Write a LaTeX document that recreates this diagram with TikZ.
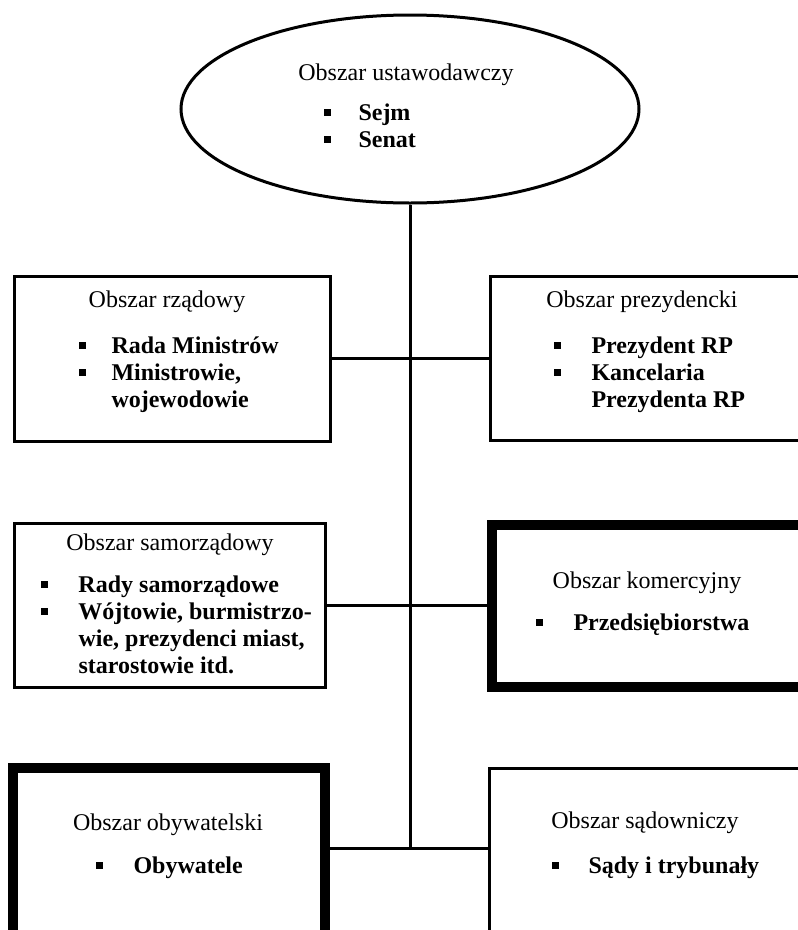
\documentclass[tikz,border=0pt]{standalone}
\usepackage{fontspec}
\setmainfont{Liberation Serif}
\usetikzlibrary{shapes.geometric}
\begin{document}
\begin{tikzpicture}[x=1pt,y=-1pt,
  line width=3pt,
  box/.style={draw, line width=3pt, rectangle, inner sep=0pt},
  heavybox/.style={box, line width=10pt},
  ttl/.style={anchor=base, inner sep=0pt, font=\fontsize{24}{27}\selectfont},
  itm/.style={anchor=base west, inner sep=0pt, font=\fontsize{24}{27}\selectfont\bfseries},
  conn/.style={draw, line width=3pt},
]
\useasboundingbox (0,0) rectangle (798,930);
\clip (0,0) rectangle (798,930);
\newcommand{\bul}[1]{\rule[4pt]{7pt}{7pt}\hspace{#1}}

% ellipse
\node[ellipse, draw, line width=3pt, minimum width=458pt, minimum height=188pt, inner sep=0pt] (ell) at (410,109) {};
\node[ttl] (t0) at (406,80) {Obszar ustawodawczy};
\node[itm] (i01) at (322,120) {\bul{28pt}Sejm};
\node[itm] (i02) at (322,147) {\bul{28pt}Senat};

% boxes
\node[box, minimum width=316pt, minimum height=165pt] (b1) at (172,358.5) {};
\node[box, minimum width=340pt, minimum height=164pt] (b2) at (660,358) {};
\node[box, minimum width=311pt, minimum height=164pt] (b3) at (169.5,605) {};
\node[heavybox, minimum width=338pt, minimum height=162pt] (b4) at (661,605.5) {};
\node[heavybox, minimum width=312pt, minimum height=232pt] (b5) at (169,884) {};
\node[box, minimum width=341pt, minimum height=232pt] (b6) at (659.5,884) {};

% connectors
\coordinate (bot) at (410,848);
\draw[conn] (ell.south) -- (bot);
\draw[conn] (b1.east) -- (b1.east -| b2.west);
\draw[conn] (b3.east) -- (b3.east -| b4.west);
\draw[conn] (b5.east |- bot) -- (b6.west |- bot);

% box 1
\node[ttl] (t1) at (167,307) {Obszar rządowy};
\node[itm] (i11) at (77,353) {\bul{26pt}Rada Ministrów};
\node[itm] (i12) at (77,380) {\bul{26pt}Ministrowie,};
\node[itm] (i13) at (110,407) {wojewodowie};

% box 2
\node[ttl] (t2) at (642,307) {Obszar prezydencki};
\node[itm] (i21) at (552,353) {\bul{31pt}Prezydent RP};
\node[itm] (i22) at (552,380) {\bul{31pt}Kancelaria};
\node[itm] (i23) at (590,407) {Prezydenta RP};

% box 3
\node[ttl] (t3) at (170,550) {Obszar samorządowy};
\node[itm] (i31) at (39,592) {\bul{31pt}Rady samorządowe};
\node[itm] (i32) at (39,619) {\bul{31pt}Wójtowie, burmistrzo-};
\node[itm] (i33) at (77,646) {wie, prezydenci miast,};
\node[itm] (i34) at (77,673) {starostowie itd.};

% box 4
\node[ttl] (t4) at (647,588) {Obszar komercyjny};
\node[itm] (i41) at (534,630) {\bul{31pt}Przedsiębiorstwa};

% box 5
\node[ttl] (t5) at (168,830) {Obszar obywatelski};
\node[itm] (i51) at (94,873) {\bul{31pt}Obywatele};

% box 6
\node[ttl] (t6) at (645,828) {Obszar sądowniczy};
\node[itm] (i61) at (550,873) {\bul{30pt}Sądy i trybunały};
\end{tikzpicture}
\end{document}
